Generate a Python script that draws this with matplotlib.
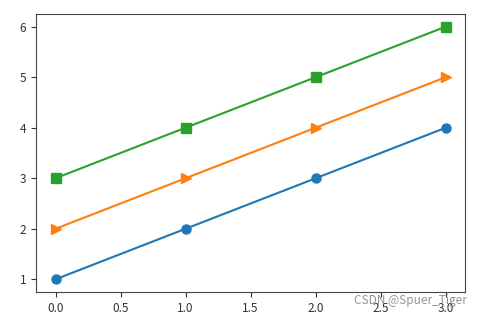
import matplotlib
matplotlib.use("Agg")
import matplotlib.pyplot as plt

x = [0, 1, 2, 3]
y_blue = [1, 2, 3, 4]
y_orange = [2, 3, 4, 5]
y_green = [3, 4, 5, 6]

plt.rcParams['font.family'] = ['Noto Sans CJK SC', 'DejaVu Sans']

fig = plt.figure(figsize=(4.83, 3.18), dpi=100)
ax = fig.add_axes([0.0745, 0.082, 0.889, 0.874])
ax.plot(x, y_blue, marker='o', color='#1f77b4', markersize=6.5)
ax.plot(x, y_orange, marker='>', color='#ff7f0e', markersize=6.5)
ax.plot(x, y_green, marker='s', color='#2ca02c', markersize=6.5)

ax.set_xticks([0, 0.5, 1, 1.5, 2, 2.5, 3])
ax.set_xticklabels(['0.0', '0.5', '1.0', '1.5', '2.0', '2.5', '3.0'])
ax.tick_params(labelsize=8.5, colors='#333333')
for s in ax.spines.values():
    s.set_color('#444444')

fig.text(0.849, 0.055, 'CSDN @Spuer_Tiger', fontsize=8.5, color='#888888',
         ha='center', va='center', alpha=0.9)

fig.savefig('out.png', dpi=100)
